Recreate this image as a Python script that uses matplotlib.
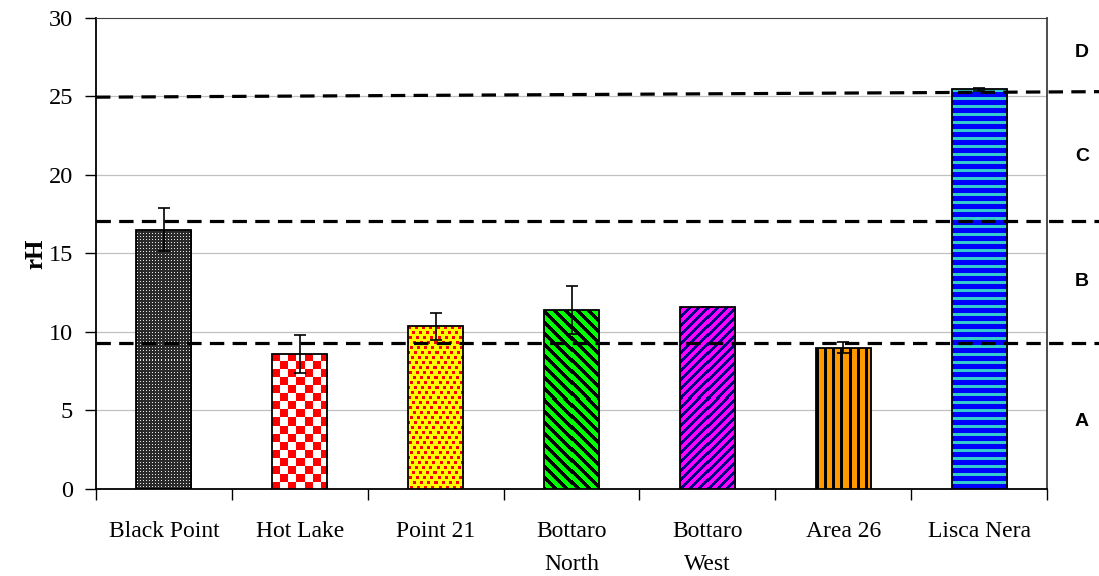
import numpy as np
import matplotlib
matplotlib.use("Agg")
import matplotlib.pyplot as plt
from matplotlib.colors import to_rgb

# Valores de rH por sitio
sitios = ["Black Point", "Hot Lake", "Point 21", "Bottaro\nNorth",
          "Bottaro\nWest", "Area 26", "Lisca Nera"]
rh = [16.5, 8.6, 10.35, 11.4, 11.6, 9.0, 25.45]
rh_err = [1.37, 1.2, 0.85, 1.55, 0.0, 0.35, 0.1]

# Limites entre zonas (inicio y final de cada linea discontinua)
limite_ini = [9.3, 17.05, 24.95]
limite_fin = [9.3, 17.05, 25.3]
zonas = ["A", "B", "C", "D"]
zonas_y = [4.3, 13.2, 21.2, 27.8]

# Relleno de cada barra: (tipo, color fondo, color trama)
rellenos = [("puntos", "#2a2a2a", "#e6e6e6"),
            ("damero", "#ffffff", "#ff0000"),
            ("motas", "#ffff00", "#ff0000"),
            ("diag_bajada", "#00ff00", "#000000"),
            ("diag_subida", "#ff00ff", "#000080"),
            ("vertical", "#ff9900", "#000000"),
            ("horizontal", "#0000ff", "#33cccc")]


def textura(tipo, fondo, trama, h, w):
    i, j = np.indices((h, w))
    if tipo == "puntos":
        m = (i % 3 == 1) & (j % 3 == 1)
    elif tipo == "damero":
        m = ((i // 8) + (j // 8)) % 2 == 0
    elif tipo == "motas":
        m = (i % 5 < 3) & ((j + 3 * (i // 5)) % 7 < 3)
    elif tipo == "diag_bajada":
        m = (i - j) % 11 < 5
    elif tipo == "diag_subida":
        m = (i + j) % 9 < 4
    elif tipo == "vertical":
        m = j % 8 < 3
    else:
        m = i % 8 < 3
    img = np.empty((h, w, 3))
    img[:] = to_rgb(fondo)
    img[m] = to_rgb(trama)
    return img


fig = plt.figure(figsize=(10.99, 5.76), dpi=100)
ax = fig.add_axes([0.0874, 0.151, 0.8653, 0.818])
xlim = (-0.5, 6.5)
ylim = (0, 30)
ax.set_xlim(*xlim)
ax.set_ylim(*ylim)

x = np.arange(len(sitios))
ancho = 0.405

# Rejilla horizontal
for v in [5, 10, 15, 20, 25]:
    ax.axhline(v, color="#c0c0c0", lw=0.9, zorder=0)

barras = ax.bar(x, rh, width=ancho, facecolor="none", edgecolor="black",
                linewidth=1.3, zorder=4)

for k, barra in enumerate(barras):
    x0 = x[k] - ancho / 2
    x1 = x[k] + ancho / 2
    p0 = ax.transData.transform((x0, 0))
    p1 = ax.transData.transform((x1, rh[k]))
    wpx = max(int(round(p1[0] - p0[0])), 1)
    hpx = max(int(round(p1[1] - p0[1])), 1)
    tipo, fondo, trama = rellenos[k]
    im = ax.imshow(textura(tipo, fondo, trama, hpx, wpx),
                   extent=(x0, x1, 0, rh[k]), interpolation="nearest",
                   aspect="auto", zorder=3)
    im.set_clip_path(barra)

ax.errorbar(x, rh, yerr=rh_err, fmt="none", ecolor="black", elinewidth=1.2,
            capsize=4.5, capthick=1.2, zorder=6)

# Lineas discontinuas que separan las zonas (salen del area del grafico)
x_fin = xlim[0] + (1099 - 96) / (951 / 7)
for a, b in zip(limite_ini, limite_fin):
    ax.plot([xlim[0], x_fin], [a, b], color="black", lw=2.3,
            dashes=(4.5, 2.6), clip_on=False, zorder=7)

for z, zy in zip(zonas, zonas_y):
    ax.text(x_fin - 0.125, zy, z, ha="center", va="center",
            fontfamily="Liberation Sans", fontweight="bold", fontsize=14,
            clip_on=False)

ax.set_xlim(*xlim)
ax.set_ylim(*ylim)

ax.set_yticks(np.arange(0, 31, 5))
ax.set_yticklabels([str(v) for v in range(0, 31, 5)],
                   fontfamily="Liberation Serif", fontsize=17.5)
ax.tick_params(axis="y", direction="out", length=8, width=1, pad=8.5)

ax.set_xticks(x)
ax.set_xticklabels(sitios, fontfamily="Liberation Serif", fontsize=17,
                   linespacing=1.75)
ax.set_xticks(np.arange(-0.5, 7, 1), minor=True)
ax.tick_params(axis="x", which="major", length=0, pad=23)
ax.tick_params(axis="x", which="minor", direction="out", length=8, width=1)

ax.set_ylabel("rH", fontfamily="Liberation Serif", fontweight="bold",
              fontsize=18)
ax.yaxis.set_label_coords(-0.051, 0.5)

ax.spines["left"].set_linewidth(1.3)
ax.spines["bottom"].set_linewidth(1.3)
ax.spines["top"].set_color("#404040")
ax.spines["right"].set_color("#404040")
ax.spines["right"].set_linewidth(1.3)

fig.savefig("out.png", dpi=100)
